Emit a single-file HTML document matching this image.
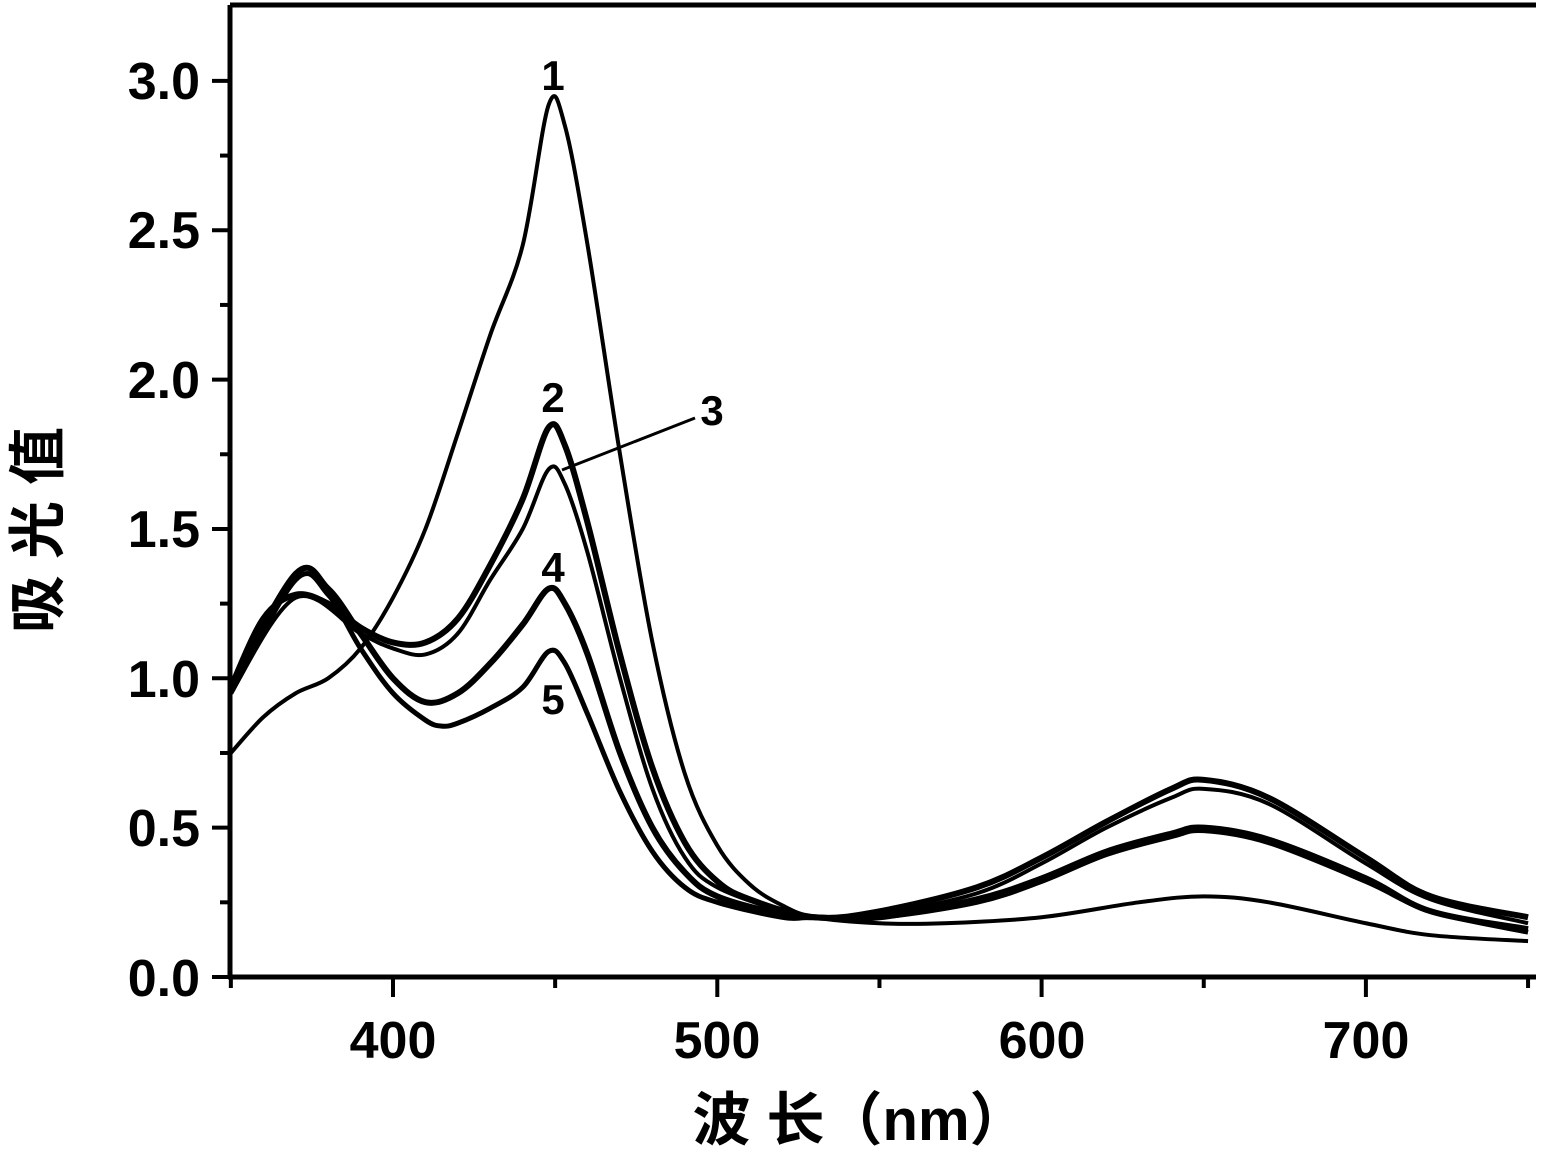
<!DOCTYPE html>
<html><head><meta charset="utf-8"><style>
html,body{margin:0;padding:0;background:#fff}
svg{display:block}
text{font-family:"Liberation Sans","Noto Sans CJK SC",sans-serif;font-weight:bold;fill:#000}
</style></head><body>
<svg id="s" width="1541" height="1153" viewBox="0 0 1541 1153" xmlns="http://www.w3.org/2000/svg">
<g stroke="#000" stroke-width="5" fill="none">
<line x1="230" y1="5" x2="1536" y2="5"/>
<line x1="230" y1="5" x2="230" y2="979"/>
<line x1="228" y1="977" x2="1536" y2="977"/>
</g>
<g id="ticks" stroke="#000" stroke-width="4"></g>
<g id="curves" stroke="#000" fill="none" stroke-linejoin="round"></g>
<g font-size="52" text-anchor="end">
<text x="200" y="99">3.0</text>
<text x="200" y="248">2.5</text>
<text x="200" y="398">2.0</text>
<text x="200" y="547">1.5</text>
<text x="200" y="697">1.0</text>
<text x="200" y="846">0.5</text>
<text x="200" y="996">0.0</text>
</g>
<g font-size="52" text-anchor="middle">
<text x="393" y="1058">400</text>
<text x="717" y="1058">500</text>
<text x="1042" y="1058">600</text>
<text x="1366" y="1058">700</text>
</g>
<text x="860" y="1140" font-size="58" text-anchor="middle">波 长（nm）</text>
<text transform="translate(58,530) rotate(-90)" font-size="58" text-anchor="middle">吸 光 值</text>
<g font-size="42" text-anchor="middle">
<text x="553" y="90">1</text>
<text x="553" y="412">2</text>
<text x="712" y="425">3</text>
<text x="553" y="582">4</text>
<text x="553" y="714">5</text>
</g>
<line x1="562" y1="470" x2="695" y2="418" stroke="#000" stroke-width="3"/>
</svg>
<script>
var X=function(n){return 393+3.243*(n-400)};
var Y=function(v){return 977-298.7*v};
var t=document.getElementById('ticks'),h='';
for(var n=350;n<=750;n+=50){var big=n%100==0;h+='<line x1="'+X(n)+'" y1="977" x2="'+X(n)+'" y2="'+(big?997:988)+'"/>';}
for(var v=0;v<=3.01;v+=0.25){var big=Math.abs(v*2-Math.round(v*2))<0.01;h+='<line x1="'+(big?212:220)+'" y1="'+Y(v)+'" x2="230" y2="'+Y(v)+'"/>';}
t.innerHTML=h;
var C=[
[[[350,.75],[360,.87],[370,.95],[380,1.0],[390,1.1],[400,1.27],[410,1.5],[420,1.82],[430,2.15],[440,2.45],[448,2.92],[453,2.85],[460,2.45],[470,1.75],[480,1.12],[490,.68],[500,.44],[510,.31],[520,.24],[530,.2],[550,.18],[570,.18],[600,.2],[630,.25],[650,.27],[670,.25],[700,.18],[720,.14],[750,.12]],4],
[[[350,.97],[360,1.2],[370,1.28],[380,1.25],[390,1.17],[400,1.12],[410,1.12],[420,1.2],[430,1.38],[440,1.6],[448,1.84],[453,1.78],[460,1.52],[470,1.08],[480,.7],[490,.45],[500,.32],[510,.26],[530,.2],[550,.22],[580,.3],[600,.4],[620,.52],[640,.63],[650,.66],[670,.6],[700,.4],[720,.27],[750,.2]],6],
[[[350,.95],[370,1.27],[390,1.15],[400,1.1],[410,1.08],[420,1.15],[430,1.33],[440,1.5],[448,1.7],[453,1.65],[460,1.42],[470,1.0],[480,.63],[490,.4],[500,.3],[520,.22],[530,.2],[550,.21],[580,.28],[600,.38],[620,.5],[640,.6],[650,.63],[670,.58],[700,.38],[720,.26],[750,.18]],4],
[[[350,.97],[370,1.35],[380,1.3],[390,1.15],[400,1.0],[410,.92],[420,.95],[430,1.05],[440,1.18],[448,1.3],[453,1.25],[460,1.08],[470,.75],[480,.5],[490,.35],[500,.27],[520,.21],[530,.2],[550,.2],[580,.26],[600,.33],[620,.42],[640,.48],[650,.5],[670,.46],[700,.33],[720,.22],[750,.16]],6],
[[[350,.95],[370,1.33],[380,1.28],[390,1.1],[400,.95],[410,.86],[415,.84],[420,.85],[430,.9],[440,.97],[448,1.09],[453,1.05],[460,.88],[470,.62],[480,.42],[490,.3],[500,.25],[520,.2],[530,.2],[550,.2],[580,.25],[600,.32],[620,.41],[640,.47],[650,.49],[670,.45],[700,.32],[720,.22],[750,.15]],5]
];
var g=document.getElementById('curves'),o='';
C.forEach(function(c){var p=c[0].map(function(q){return [X(q[0]),Y(q[1])]});
var d='M'+p[0][0]+','+p[0][1];
for(var i=0;i<p.length-1;i++){var p0=p[i-1]||p[i],p1=p[i],p2=p[i+1],p3=p[i+2]||p2;
d+=' C'+(p1[0]+(p2[0]-p0[0])/6)+','+(p1[1]+(p2[1]-p0[1])/6)+' '+(p2[0]-(p3[0]-p1[0])/6)+','+(p2[1]-(p3[1]-p1[1])/6)+' '+p2[0]+','+p2[1];}
o+='<path d="'+d+'" stroke-width="'+c[1]+'"/>';});
g.innerHTML=o;
</script>
</body></html>
